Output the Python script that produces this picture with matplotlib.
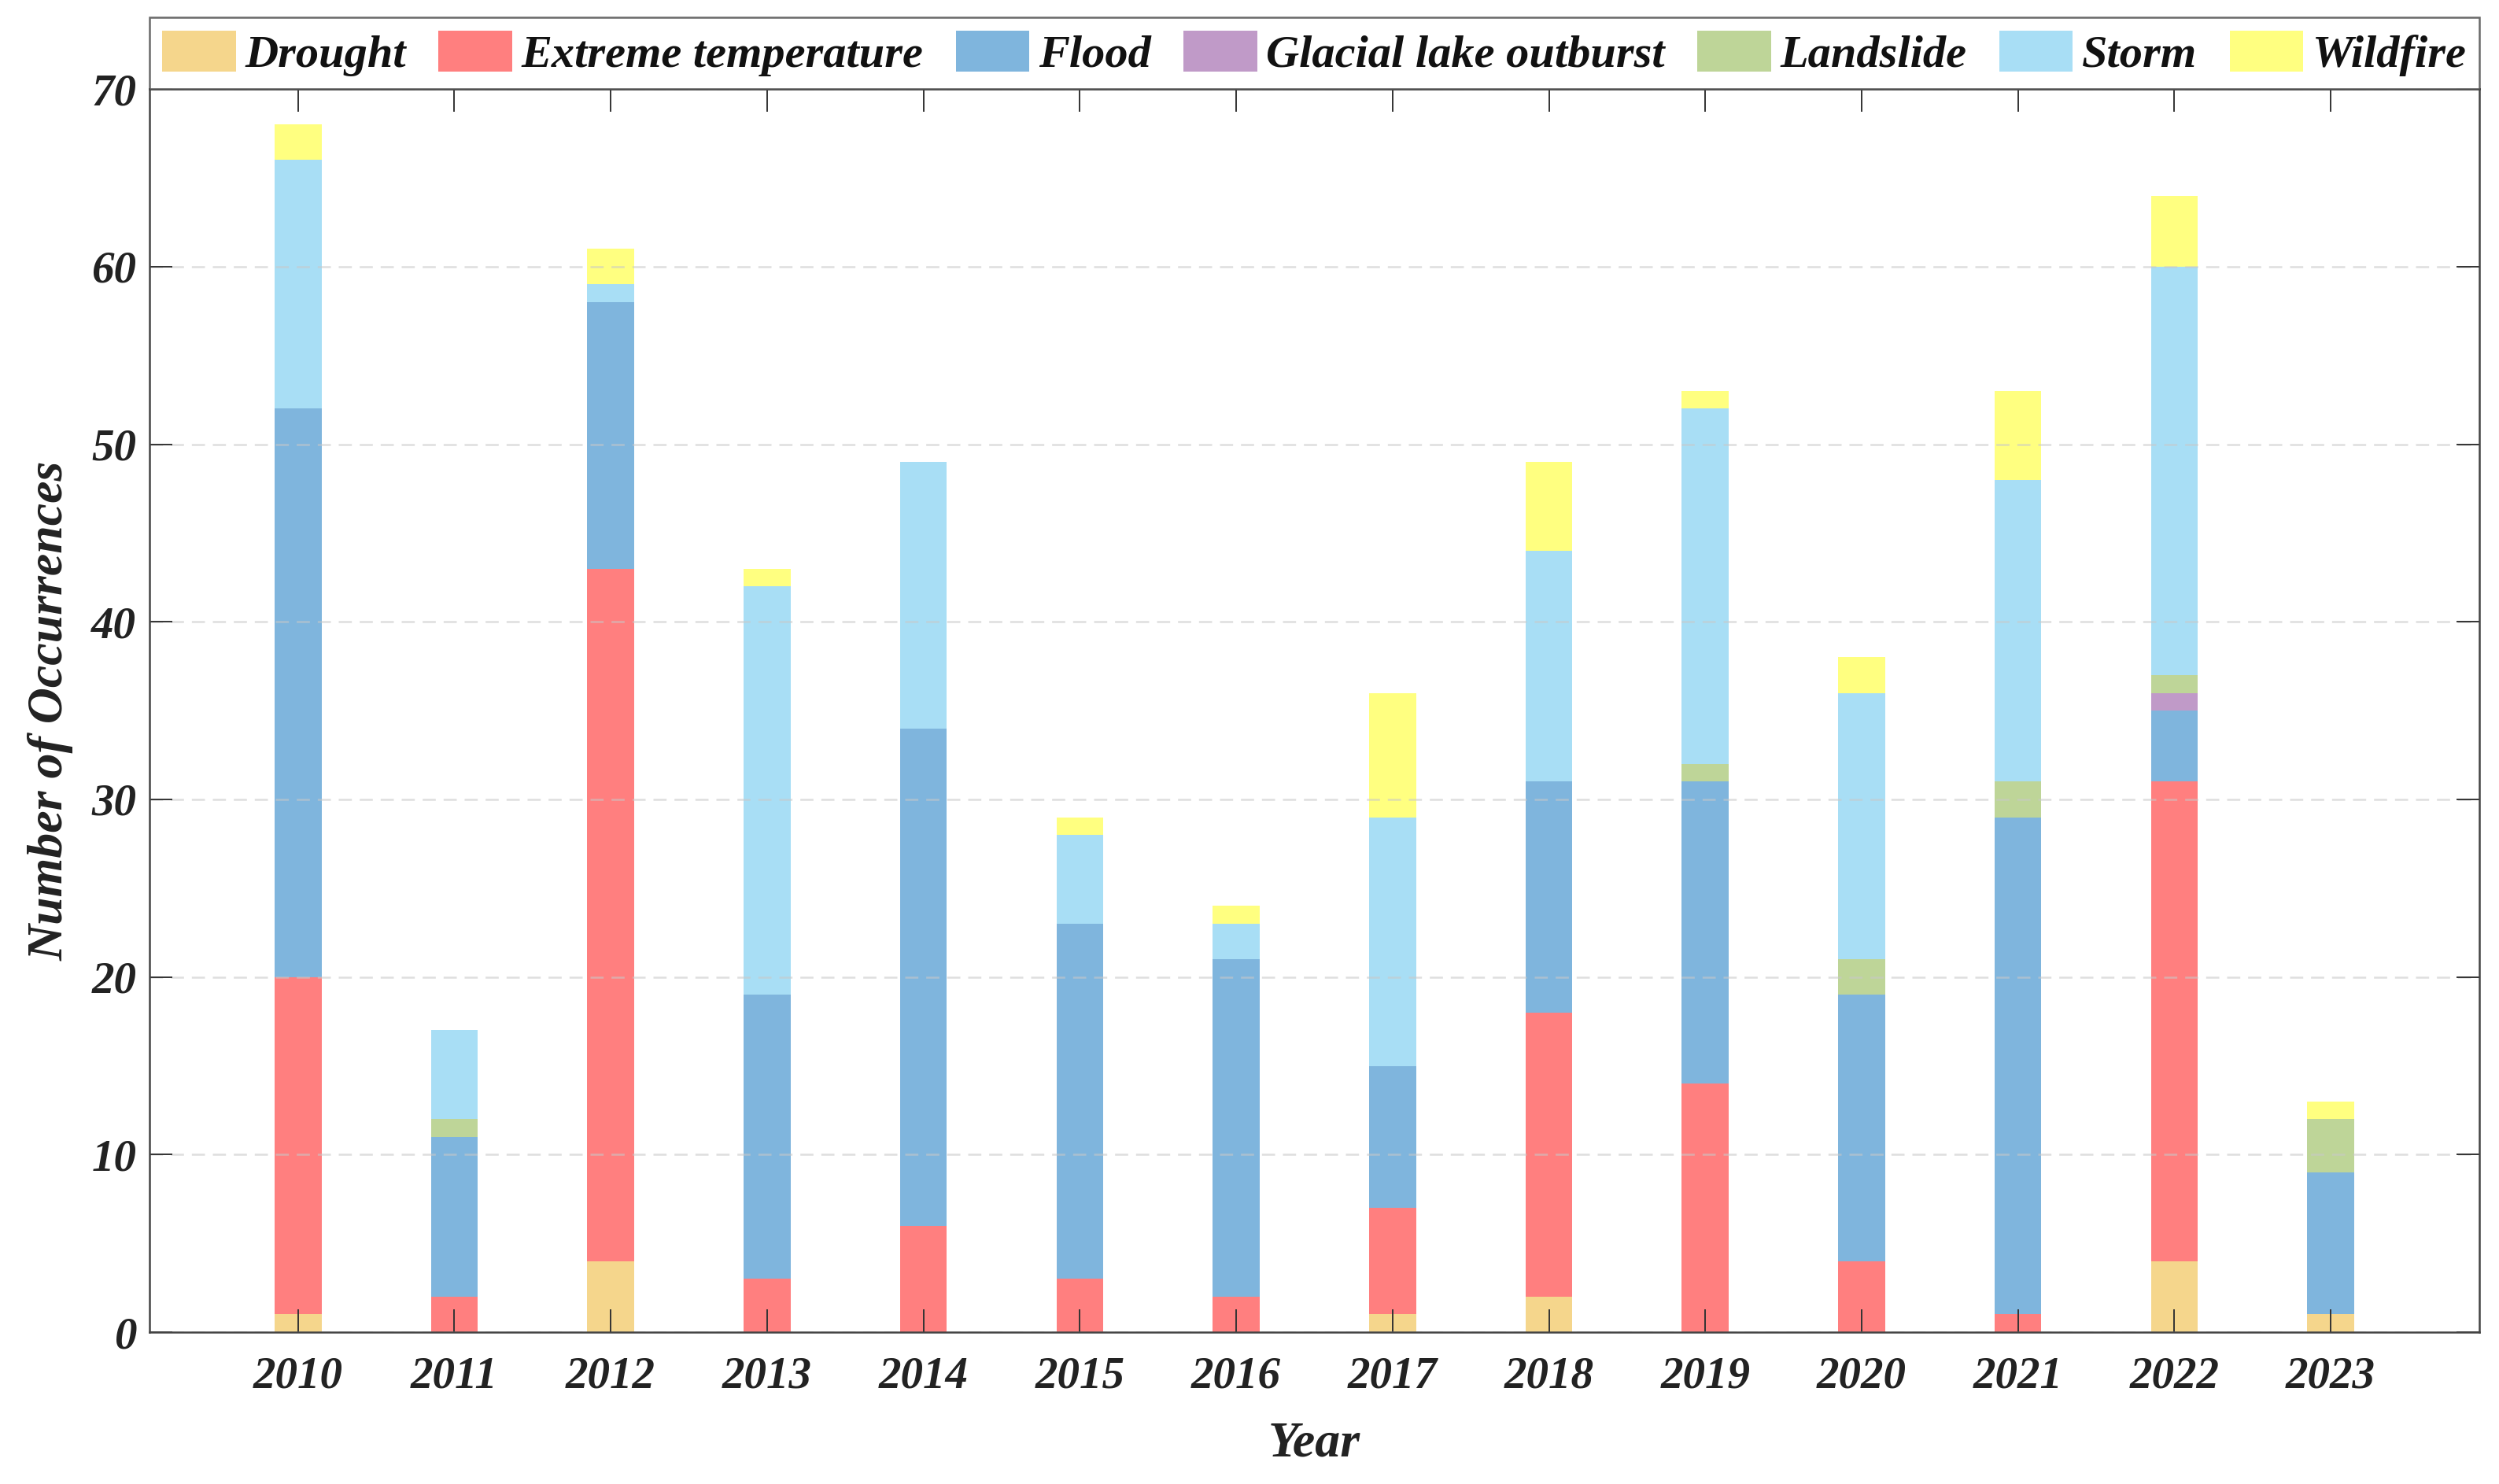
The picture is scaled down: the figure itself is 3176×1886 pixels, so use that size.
import matplotlib
matplotlib.use("Agg")
import matplotlib.pyplot as plt
import numpy as np

plt.rcParams['font.family'] = ['Liberation Serif', 'DejaVu Serif']
plt.rcParams['lines.scale_dashes'] = False

years = [2010, 2011, 2012, 2013, 2014, 2015, 2016, 2017, 2018, 2019, 2020, 2021, 2022, 2023]
categories = ["Drought", "Extreme temperature", "Flood", "Glacial lake outburst",
              "Landslide", "Storm", "Wildfire"]
drought     = [1, 0, 4, 0, 0, 0, 0, 1, 2, 0, 0, 0, 4, 1]
extreme     = [19, 2, 39, 3, 6, 3, 2, 6, 16, 14, 4, 1, 27, 0]
flood       = [32, 9, 15, 16, 28, 20, 19, 8, 13, 17, 15, 28, 4, 8]
glacial     = [0, 0, 0, 0, 0, 0, 0, 0, 0, 0, 0, 0, 1, 0]
landslide   = [0, 1, 0, 0, 0, 0, 0, 0, 0, 1, 2, 2, 1, 3]
storm       = [14, 5, 1, 23, 15, 5, 2, 14, 13, 20, 15, 17, 23, 0]
wildfire    = [2, 0, 2, 1, 0, 1, 1, 7, 5, 1, 2, 5, 4, 1]
series = [drought, extreme, flood, glacial, landslide, storm, wildfire]
colors = ["#F5D68C", "#FF7F7F", "#7FB5DD", "#C09AC8", "#BED598", "#A8DEF5", "#FFFF80"]

fig = plt.figure(figsize=(15.88, 9.43), dpi=200)
ax = fig.add_axes([0.0598, 0.1023, 0.9323, 0.8377])

txt_color = "#222222"
bottom = np.zeros(len(years))
for name, vals, col in zip(categories, series, colors):
    ax.bar(years, vals, width=0.30, bottom=bottom, color=col, label=name,
           zorder=2, linewidth=0)
    bottom += np.array(vals)

ax.set_xlim(2009.05, 2023.95)
ax.set_ylim(0, 70)
ax.set_xticks(years)
ax.set_yticks(range(0, 71, 10))

ax.grid(axis='y', color='#c8c8c8', alpha=0.6, linewidth=0.9,
        linestyle=(0, (6, 3.6)), zorder=3)
ax.set_axisbelow(False)

for s in ax.spines.values():
    s.set_color('#444444')
    s.set_linewidth(0.9)
    s.set_zorder(4)

ax.tick_params(axis='both', direction='in', length=10.5, width=0.7,
               color='#333333', top=True, right=True,
               labelsize=20.5, labelcolor=txt_color)
ax.tick_params(axis='x', pad=11)
ax.tick_params(axis='y', pad=6)
for lab in ax.get_xticklabels() + ax.get_yticklabels():
    lab.set_fontstyle('italic')
    lab.set_fontweight('bold')

ax.set_xlabel("Year", fontsize=23, fontstyle='italic', fontweight='bold',
              color=txt_color, labelpad=11)
ax.set_ylabel("Number of Occurrences", fontsize=23, fontstyle='italic',
              fontweight='bold', color=txt_color, labelpad=8)

leg = ax.legend(loc='lower left', bbox_to_anchor=(0, 1.0, 1, 0.05), mode='expand',
                ncol=7, borderaxespad=0, frameon=True, fancybox=False,
                handlelength=1.6, handleheight=1.0, handletextpad=0.2,
                columnspacing=0.4, borderpad=0.28,
                prop={'family': ['Liberation Serif'], 'style': 'italic',
                      'weight': 'bold', 'size': 21})
leg.get_frame().set_edgecolor('#444444')
leg.get_frame().set_linewidth(0.9)
for t in leg.get_texts():
    t.set_color('#111111')

fig.savefig("out.png", dpi=200)
